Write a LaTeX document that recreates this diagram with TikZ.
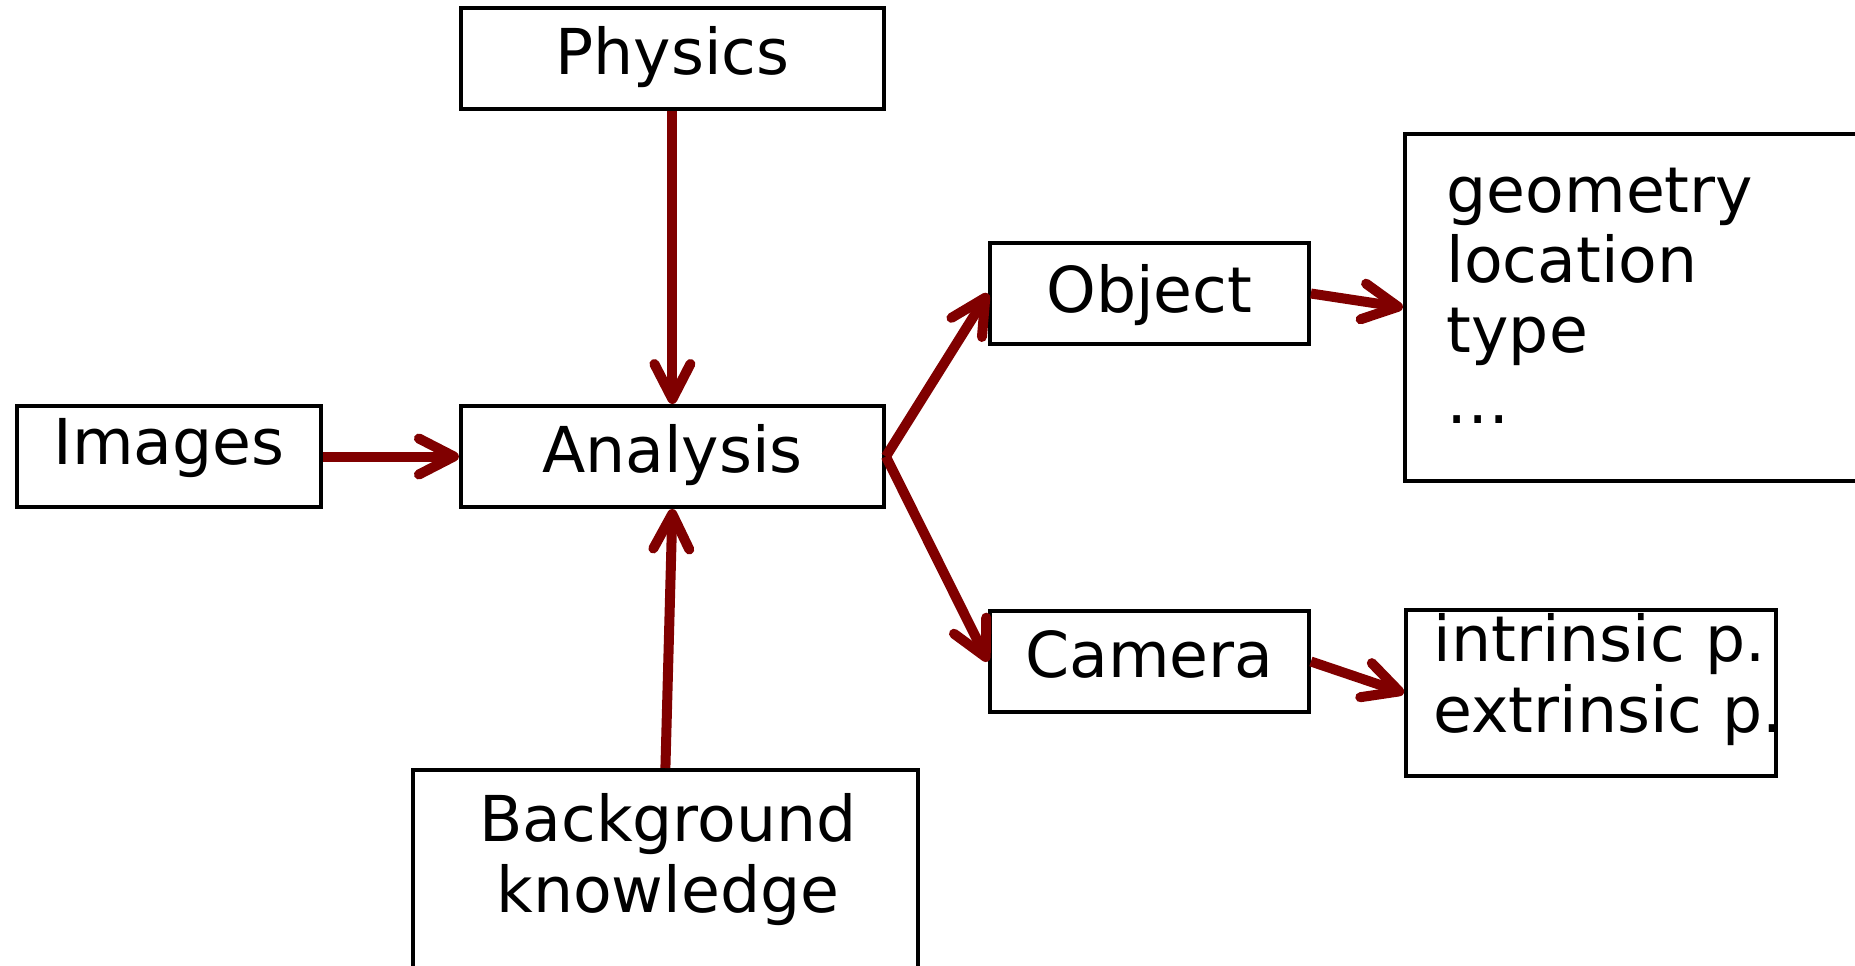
\documentclass[tikz,border=0pt]{standalone}
\usepackage{fontspec}
\setmainfont{DejaVu Sans}
\usetikzlibrary{positioning,arrows.meta,calc}
\definecolor{arrowred}{HTML}{800000}

\begin{document}
\begin{tikzpicture}[
    x=1mm, y=1mm,
    node distance=10mm,
    font=\fontsize{18pt}{20pt}\selectfont,
    box/.style={rectangle, draw, line width=0.4mm, minimum width=42.3mm,
                minimum height=10.1mm, text height=5mm, text depth=1.8mm, inner sep=0pt},
    infobox/.style={rectangle, draw, line width=0.4mm, inner sep=0pt},
    txt/.style={anchor=base west, align=left, inner sep=0pt},
    arr/.style={-{Straight Barb[length=3.5mm, width=3.6mm, round]}, line width=1mm, arrowred}
  ]
    \useasboundingbox (0,0) rectangle (185.5,-96.5);

    \node[box] (analysis) at (67.24,-45.65) {Analysis};
    \node[box, above=29.3mm of analysis] (physics) {Physics};
    \node[box, minimum width=30.4mm, text depth=3.4mm, left=13.6mm of analysis] (images) {Images};
    \node[infobox, minimum width=50.5mm, minimum height=30mm, below=25.9mm of analysis,
          xshift=-0.7mm] (bg) {};
    % base anchor sits on the last line
    \node[align=center, anchor=base, inner sep=0pt] (bgtext) at ($(bg.north)+(0.25,-14.4)$)
      {Background\\knowledge};

    \node[box, minimum width=31.9mm, text depth=1.2mm, above right=5.8mm and 10.2mm of analysis] (object) {Object};
    \node[box, minimum width=31.9mm, below right=10.0mm and 10.2mm of analysis] (camera) {Camera};

    \node[infobox, minimum width=50mm, minimum height=34.7mm, right=9.2mm of object,
          yshift=-1.4mm] (objinfo) {};
    \node[txt] (objtxt) at ($(objinfo.north west)+(4.3,-29.1)$) {geometry\\location\\type\\…};
    \node[infobox, minimum width=37.0mm, minimum height=16.6mm, right=9.3mm of camera,
          yshift=-3.15mm] (caminfo) {};
    \node[txt] (camtxt) at ($(caminfo.north west)+(2.9,-12.4)$) {intrinsic p.\\extrinsic p.};

    \draw[arr] (physics) -- (analysis);
    \draw[arr] (images) -- (analysis);
    \draw[arr] (bg.north) -- (analysis.south);
    \draw[arr] (analysis.east) -- (object.west);
    \draw[arr] (analysis.east) -- (camera.west);
    \draw[arr] (object.east) -- (objinfo.west);
    \draw[arr] (camera.east) -- (caminfo.west);
  \end{tikzpicture}
\end{document}
